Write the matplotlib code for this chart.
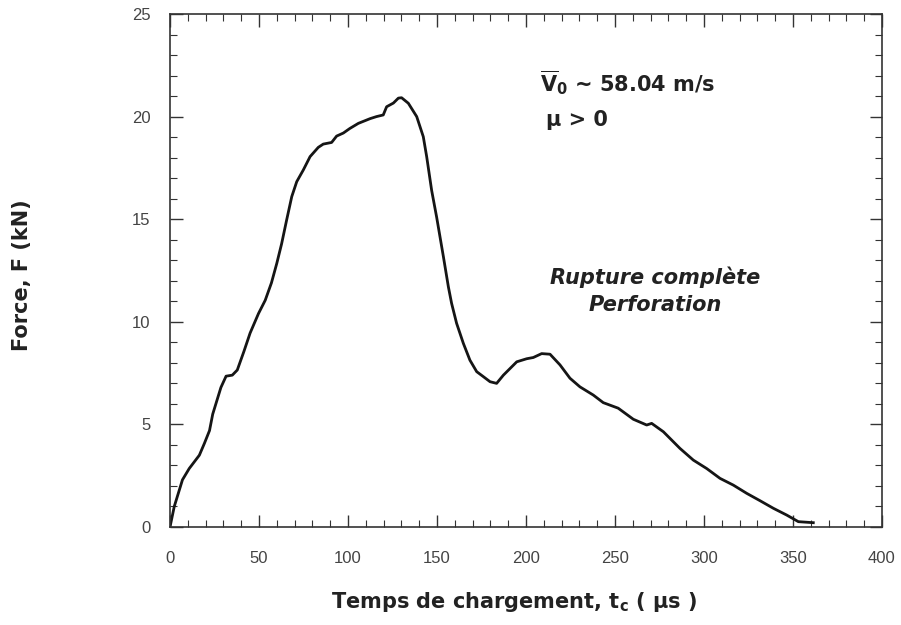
import matplotlib
matplotlib.use("Agg")
import matplotlib.pyplot as plt
from matplotlib.ticker import MultipleLocator

# temps de chargement (us) / force (kN)
t_us = [0, 2.4, 7, 10.8, 16.5, 19.3, 22.2, 24, 28.6, 31.5, 35, 37.8, 41.5, 45,
        49.7, 53.5, 57, 60, 62.7, 65.5, 68.4, 71.2, 74.9, 78.7, 83.3, 86.1,
        90.8, 93.6, 97.4, 101, 105.8, 112.4, 116, 119.8, 121.7, 125.5, 128.3,
        130.1, 133.9, 138.6, 142.3, 144.2, 147, 149.8, 153.6, 156.4, 158.2,
        161, 164.8, 168.5, 172.3, 176, 179.8, 183.5, 187.3, 194.8, 200.4,
        204.1, 208.8, 213.5, 219.1, 224.7, 230.3, 237.8, 243.4, 251.8, 260.3,
        267.8, 270.6, 277.2, 286.5, 294, 301.5, 309, 316.5, 324, 331.5, 339,
        346.5, 353, 361.4]
force_kn = [0, 1.0, 2.3, 2.85, 3.5, 4.07, 4.7, 5.5, 6.8, 7.35, 7.4, 7.65, 8.55,
            9.45, 10.4, 11.05, 11.9, 12.85, 13.8, 14.95, 16.1, 16.83, 17.4,
            18.05, 18.5, 18.66, 18.74, 19.05, 19.2, 19.42, 19.67, 19.9, 20.0,
            20.08, 20.48, 20.66, 20.9, 20.92, 20.65, 20.0, 19.02, 18.05, 16.4,
            15.1, 13.17, 11.7, 10.9, 9.93, 8.95, 8.13, 7.57, 7.33, 7.08, 7.0,
            7.4, 8.05, 8.2, 8.26, 8.45, 8.42, 7.9, 7.25, 6.83, 6.43, 6.06,
            5.79, 5.25, 4.97, 5.05, 4.64, 3.83, 3.26, 2.85, 2.37, 2.04, 1.64,
            1.28, 0.91, 0.58, 0.26, 0.21]

plt.rcParams['font.family'] = ['Liberation Sans', 'DejaVu Sans']
plt.rcParams['mathtext.fontset'] = 'custom'
plt.rcParams['mathtext.rm'] = 'DejaVu Sans:bold'
plt.rcParams['mathtext.it'] = 'DejaVu Sans:bold'
plt.rcParams['mathtext.bf'] = 'DejaVu Sans:bold'

LAB = dict(family='DejaVu Sans', fontsize=15, fontweight='bold',
           color='#222222')

fig = plt.figure(figsize=(9.01, 6.25), dpi=100)
ax = fig.add_axes([170 / 901, 1 - 527 / 625, 712 / 901, 513 / 625])

ax.plot(t_us, force_kn, color='#151515', linewidth=2.0)

ax.set_xlim(0, 400)
ax.set_ylim(0, 25)
ax.xaxis.set_major_locator(MultipleLocator(50))
ax.xaxis.set_minor_locator(MultipleLocator(10))
ax.yaxis.set_major_locator(MultipleLocator(5))
ax.yaxis.set_minor_locator(MultipleLocator(1))
ax.tick_params(which='both', direction='in', top=True, right=True,
               colors='#333333', labelcolor='#444444', labelsize=12)
ax.tick_params(which='major', length=9, width=1.0)
ax.tick_params(which='minor', length=5, width=0.8)
ax.tick_params(axis='x', pad=17)
ax.tick_params(axis='y', pad=14)
for s in ax.spines.values():
    s.set_color('#333333')
    s.set_linewidth(1.2)

fig.text(22 / 901, 1 - 275 / 625, 'Force, F (kN)', rotation=90,
         ha='center', va='center', **LAB)
fig.text(514 / 901, 1 - 602 / 625,
         r'Temps de chargement, t$_{\mathrm{c}}$ ( μs )',
         ha='center', va='center', **LAB)

ax.text(208, 21.65, r'$\overline{\mathrm{V}}_{\mathrm{0}}$ ~ 58.04 m/s',
        ha='left', va='center', **LAB)
ax.text(211.5, 19.85, 'μ > 0', ha='left', va='center', **LAB)
ax.text(272.5, 11.5, 'Rupture complète\nPerforation', fontstyle='italic',
        ha='center', va='center', linespacing=1.45, **LAB)

fig.savefig('out.png', dpi=100)
